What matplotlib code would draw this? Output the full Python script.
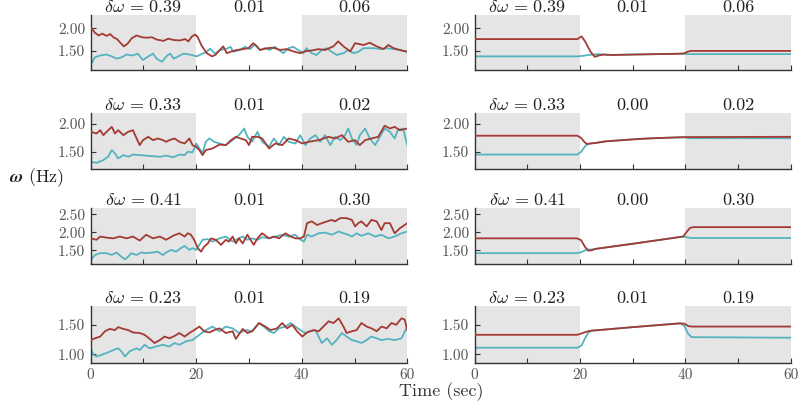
import matplotlib
matplotlib.use("Agg")
import matplotlib.pyplot as plt
import matplotlib.transforms as mtransforms
from matplotlib.ticker import FormatStrFormatter, MultipleLocator, FixedLocator

plt.rcParams['font.family'] = ['cmr10', 'DejaVu Serif']
plt.rcParams['mathtext.fontset'] = 'cm'
plt.rcParams['axes.unicode_minus'] = False

RED = '#a33a33'
TEAL = '#55b3c0'
SHADE = '#e5e5e5'

# ---------------- left column (noisy) ----------------
t_l1_red = [0, 0.8, 1.5, 2.2, 3.0, 3.7, 4.3, 5.0, 5.6, 6.3, 7.0, 7.8, 8.7, 9.7, 10.6, 11.6, 12.5, 13.8, 14.7, 15.7,
            16.9, 17.9, 18.5, 19.2, 19.8, 20.3, 21.0, 22.0, 23.0, 23.6, 24.5, 25.1, 25.8, 26.7, 27.7, 28.9, 29.9,
            30.8, 31.5, 32.1, 33.4, 34.6, 35.9, 37.1, 38.4, 39.7, 40.6, 41.9, 43.2, 44.4, 46.0, 46.9, 47.9, 49.2,
            50.1, 51.7, 52.9, 54.2, 55.5, 56.4, 57.4, 58.6, 60]
red_l1 = [2.02, 1.90, 1.84, 1.88, 1.83, 1.87, 1.80, 1.76, 1.68, 1.60, 1.66, 1.78, 1.84, 1.80, 1.79, 1.80, 1.75, 1.72,
          1.77, 1.74, 1.73, 1.76, 1.71, 1.82, 1.86, 1.80, 1.62, 1.45, 1.38, 1.41, 1.52, 1.60, 1.45, 1.49, 1.52, 1.54,
          1.56, 1.67, 1.60, 1.52, 1.56, 1.57, 1.52, 1.54, 1.49, 1.45, 1.49, 1.51, 1.54, 1.52, 1.60, 1.71, 1.60, 1.49,
          1.67, 1.63, 1.68, 1.60, 1.54, 1.63, 1.56, 1.52, 1.48]
t_l1_teal = [0, 0.8, 1.8, 3.0, 4.0, 4.9, 5.9, 6.8, 8.0, 8.9, 9.9, 10.8, 11.8, 12.5, 13.5, 14.5, 15.1, 15.7, 16.6, 17.6,
             18.8, 20.1, 21.0, 22.0, 22.6, 23.6, 24.5, 25.8, 26.5, 27.0, 28.3, 29.2, 30.2, 31.1, 32.1, 33.0, 33.9,
             34.9, 36.5, 37.5, 38.4, 39.3, 40.3, 40.9, 41.9, 42.8, 43.8, 44.7, 45.7, 46.6, 47.9, 48.8, 49.8, 50.7,
             51.7, 53.6, 54.9, 56.1, 57.4, 58.6, 60]
teal_l1 = [1.19, 1.36, 1.40, 1.42, 1.38, 1.33, 1.36, 1.42, 1.40, 1.44, 1.30, 1.37, 1.44, 1.33, 1.26, 1.40, 1.44, 1.33,
           1.38, 1.44, 1.42, 1.38, 1.43, 1.48, 1.55, 1.44, 1.52, 1.55, 1.59, 1.48, 1.52, 1.59, 1.54, 1.64, 1.52, 1.56,
           1.52, 1.59, 1.45, 1.56, 1.59, 1.52, 1.45, 1.56, 1.45, 1.41, 1.52, 1.56, 1.48, 1.41, 1.45, 1.52, 1.45, 1.48,
           1.56, 1.56, 1.54, 1.56, 1.54, 1.52, 1.48]

t_l2_red = [0, 1.1, 1.8, 2.4, 3.0, 4.0, 4.6, 5.2, 6.2, 7.1, 8.0, 8.7, 9.3, 9.9, 10.9, 11.8, 12.7, 13.7, 14.3, 14.9,
            15.9, 16.8, 17.8, 18.7, 19.3, 20.0, 20.6, 21.2, 21.8, 23.1, 24.4, 25.6, 26.6, 27.5, 28.4, 29.4, 30.0,
            30.6, 31.6, 32.5, 33.8, 35.0, 36.3, 37.5, 38.8, 40.1, 41.3, 43.2, 45.1, 46.3, 47.6, 48.8, 50.1, 51.0,
            52.0, 53.2, 54.5, 55.7, 56.7, 57.6, 58.6, 60]
red_l2 = [1.86, 1.83, 1.89, 1.80, 1.86, 1.95, 1.83, 1.89, 1.80, 1.86, 1.89, 1.74, 1.62, 1.71, 1.77, 1.71, 1.74, 1.71,
          1.68, 1.71, 1.74, 1.68, 1.65, 1.74, 1.62, 1.59, 1.53, 1.44, 1.53, 1.56, 1.63, 1.62, 1.71, 1.77, 1.74, 1.71,
          1.62, 1.77, 1.77, 1.74, 1.56, 1.65, 1.62, 1.74, 1.71, 1.65, 1.68, 1.71, 1.77, 1.74, 1.80, 1.68, 1.71, 1.62,
          1.71, 1.74, 1.77, 1.97, 1.92, 1.95, 1.89, 1.92]
t_l2_teal = [0, 1.1, 2.4, 3.3, 4.0, 4.6, 5.2, 6.2, 7.1, 8.0, 9.3, 10.5, 11.8, 13.1, 14.3, 15.6, 16.8, 17.8, 18.4, 19.3,
             20.0, 20.6, 21.2, 21.8, 22.5, 23.4, 24.4, 25.6, 26.9, 28.1, 29.1, 29.7, 30.6, 31.6, 32.5, 33.8, 34.7,
             35.7, 36.6, 37.5, 38.8, 39.7, 40.7, 41.6, 42.6, 43.5, 44.4, 45.4, 46.3, 47.3, 48.2, 48.8, 49.5, 50.4,
             51.0, 52.0, 52.9, 53.9, 54.8, 55.7, 56.7, 57.6, 58.2, 59.2, 60]
teal_l2 = [1.32, 1.30, 1.35, 1.41, 1.53, 1.47, 1.38, 1.44, 1.41, 1.45, 1.44, 1.43, 1.42, 1.41, 1.43, 1.40, 1.45, 1.44,
           1.50, 1.49, 1.65, 1.56, 1.47, 1.68, 1.74, 1.68, 1.65, 1.62, 1.71, 1.80, 1.92, 1.77, 1.68, 1.86, 1.68, 1.59,
           1.74, 1.62, 1.77, 1.68, 1.65, 1.80, 1.62, 1.74, 1.80, 1.68, 1.80, 1.62, 1.77, 1.71, 1.80, 1.92, 1.74, 1.62,
           1.80, 1.92, 1.74, 1.62, 1.77, 1.92, 1.86, 1.74, 1.89, 1.92, 1.62]

t_l3_red = [0, 1.1, 1.8, 3.0, 4.3, 5.5, 6.8, 8.0, 9.3, 10.5, 11.8, 13.1, 14.3, 15.6, 16.8, 17.8, 18.4, 19.0, 19.6,
            20.3, 20.9, 21.5, 22.2, 22.8, 23.7, 24.7, 25.6, 26.2, 26.9, 27.5, 28.1, 28.8, 29.7, 30.3, 30.9, 31.6,
            32.5, 33.8, 34.7, 35.7, 36.9, 37.9, 38.8, 39.7, 40.4, 41.0, 41.9, 42.9, 43.8, 44.8, 45.7, 46.3, 47.3,
            48.5, 49.5, 50.1, 50.7, 51.3, 52.3, 53.2, 54.2, 55.1, 55.7, 56.7, 57.6, 58.6, 59.5, 60]
red_l3 = [1.83, 1.79, 1.88, 1.85, 1.83, 1.88, 1.83, 1.88, 1.77, 1.93, 1.83, 1.88, 1.79, 1.90, 1.97, 1.88, 1.97, 1.93,
          1.79, 1.56, 1.46, 1.60, 1.69, 1.83, 1.79, 1.65, 1.79, 1.74, 1.88, 1.69, 1.83, 1.69, 1.93, 1.79, 1.65, 1.83,
          1.97, 1.83, 1.88, 1.83, 1.97, 1.88, 1.83, 1.83, 1.88, 2.25, 2.30, 2.20, 2.25, 2.30, 2.34, 2.30, 2.39, 2.39,
          2.34, 2.16, 2.25, 2.30, 2.16, 2.34, 2.30, 2.06, 2.25, 2.25, 1.97, 2.11, 2.20, 2.25]
t_l3_teal = [0, 0.8, 1.8, 3.0, 4.0, 4.9, 5.8, 6.5, 7.1, 7.7, 8.7, 9.6, 10.5, 11.8, 12.7, 13.7, 14.3, 15.3, 16.2, 17.1,
             17.8, 18.7, 19.3, 20.0, 20.6, 21.2, 22.2, 23.1, 24.4, 25.6, 26.9, 27.8, 28.8, 29.7, 30.6, 31.6, 32.5,
             33.8, 35.0, 36.3, 37.5, 38.8, 39.4, 40.4, 41.0, 41.9, 43.2, 44.4, 45.7, 47.0, 47.9, 48.8, 49.5, 50.4,
             51.3, 52.6, 53.9, 55.1, 56.4, 57.6, 58.9, 60]
teal_l3 = [1.23, 1.37, 1.42, 1.42, 1.37, 1.44, 1.32, 1.25, 1.32, 1.42, 1.37, 1.44, 1.42, 1.44, 1.46, 1.37, 1.44, 1.51,
           1.46, 1.56, 1.62, 1.51, 1.56, 1.51, 1.65, 1.79, 1.81, 1.74, 1.83, 1.88, 1.74, 1.81, 1.88, 1.79, 1.83, 1.79,
           1.86, 1.83, 1.88, 1.93, 1.88, 1.93, 1.83, 1.74, 1.93, 1.88, 1.97, 1.99, 1.93, 2.02, 1.97, 1.93, 1.88, 1.97,
           1.90, 1.97, 1.88, 1.93, 1.83, 1.88, 1.97, 2.02]

t_l4_red = [0, 0.8, 1.8, 2.7, 3.6, 4.6, 5.2, 6.2, 7.1, 8.0, 9.3, 10.2, 11.2, 12.1, 13.1, 14.0, 14.9, 15.9, 16.8, 17.8,
            18.7, 19.6, 20.6, 21.5, 22.5, 23.4, 24.4, 25.6, 26.9, 27.5, 28.8, 29.7, 30.6, 31.9, 33.1, 34.1, 35.3,
            36.3, 37.2, 38.2, 39.1, 40.1, 41.0, 42.2, 43.2, 44.1, 45.1, 46.0, 47.0, 47.9, 48.5, 49.5, 50.4, 51.3,
            52.3, 53.2, 54.2, 55.1, 56.1, 57.0, 57.9, 58.9, 59.5, 60]
red_l4 = [1.24, 1.27, 1.30, 1.39, 1.43, 1.41, 1.46, 1.43, 1.41, 1.37, 1.36, 1.33, 1.26, 1.19, 1.24, 1.30, 1.27, 1.31,
          1.36, 1.30, 1.36, 1.41, 1.47, 1.39, 1.37, 1.41, 1.44, 1.36, 1.39, 1.26, 1.43, 1.36, 1.39, 1.53, 1.47, 1.41,
          1.44, 1.53, 1.44, 1.50, 1.39, 1.30, 1.37, 1.41, 1.39, 1.47, 1.56, 1.53, 1.61, 1.47, 1.36, 1.39, 1.41, 1.53,
          1.47, 1.44, 1.39, 1.47, 1.44, 1.53, 1.50, 1.61, 1.59, 1.41]
t_l4_teal = [0, 0.5, 1.1, 2.1, 3.0, 4.3, 5.2, 5.8, 6.5, 7.4, 8.7, 9.3, 10.2, 11.2, 12.4, 13.7, 14.9, 15.9, 16.8, 18.1,
             19.3, 20.6, 21.8, 23.1, 24.4, 25.6, 26.9, 28.1, 29.4, 30.6, 31.9, 32.8, 33.8, 34.7, 35.7, 36.9, 37.9,
             38.8, 39.7, 40.7, 41.6, 42.6, 43.2, 43.8, 44.8, 45.7, 46.6, 47.6, 48.5, 49.5, 50.4, 51.3, 52.3, 53.2,
             54.2, 55.1, 56.4, 57.6, 58.9, 60]
teal_l4 = [1.10, 0.99, 0.96, 0.99, 1.02, 1.07, 1.10, 1.05, 0.96, 1.05, 1.10, 1.07, 1.16, 1.10, 1.13, 1.16, 1.13, 1.19,
           1.16, 1.22, 1.24, 1.33, 1.41, 1.47, 1.39, 1.47, 1.44, 1.36, 1.41, 1.39, 1.53, 1.47, 1.39, 1.36, 1.44, 1.47,
           1.53, 1.47, 1.41, 1.36, 1.39, 1.41, 1.30, 1.19, 1.27, 1.16, 1.24, 1.36, 1.30, 1.24, 1.22, 1.19, 1.24, 1.30,
           1.27, 1.24, 1.26, 1.24, 1.27, 1.47]

# ---------------- right column (smooth) ----------------
t_r1_red = [0, 19.5, 20.3, 21.0, 22.0, 22.8, 23.6, 24.5, 26, 30, 35, 39.6, 40.4, 41, 50, 60]
red_r1 = [1.76, 1.76, 1.82, 1.70, 1.48, 1.37, 1.40, 1.42, 1.41, 1.42, 1.43, 1.44, 1.48, 1.50, 1.50, 1.50]
t_r1_teal = [0, 19.5, 20.5, 21.5, 22.5, 23.5, 24.5, 26, 30, 35, 39.6, 40.5, 60]
teal_r1 = [1.38, 1.38, 1.39, 1.41, 1.42, 1.43, 1.42, 1.41, 1.42, 1.43, 1.44, 1.43, 1.43]

t_r2_red = [0, 19.5, 20.2, 20.8, 21.3, 22, 23, 25, 28, 31, 34, 37, 40, 60]
red_r2 = [1.79, 1.79, 1.75, 1.68, 1.64, 1.65, 1.66, 1.69, 1.71, 1.73, 1.745, 1.755, 1.765, 1.77]
t_r2_teal = [0, 19.5, 20.2, 20.8, 21.3, 22, 23, 25, 28, 31, 34, 37, 40, 40.5, 60]
teal_r2 = [1.45, 1.45, 1.50, 1.58, 1.63, 1.65, 1.66, 1.69, 1.71, 1.73, 1.745, 1.755, 1.76, 1.745, 1.745]

t_r3_red = [0, 19.4, 20.2, 21.0, 21.6, 22.2, 23, 30, 39.6, 40.3, 40.9, 41.5, 60]
red_r3 = [1.83, 1.83, 1.78, 1.58, 1.49, 1.50, 1.54, 1.68, 1.88, 2.02, 2.12, 2.14, 2.14]
t_r3_teal = [0, 19.4, 20.3, 21.0, 21.6, 22.2, 23, 30, 39.6, 40.3, 41, 60]
teal_r3 = [1.42, 1.42, 1.45, 1.50, 1.52, 1.52, 1.54, 1.68, 1.88, 1.86, 1.84, 1.84]

t_r4_red = [0, 19.5, 20.5, 21.5, 22.2, 30, 39, 39.8, 40.5, 41.2, 60]
red_r4 = [1.33, 1.33, 1.36, 1.39, 1.40, 1.46, 1.525, 1.52, 1.48, 1.47, 1.47]
t_r4_teal = [0, 19.5, 20.3, 21.0, 21.6, 22.2, 30, 39, 39.8, 40.5, 41.2, 60]
teal_r4 = [1.11, 1.11, 1.15, 1.28, 1.37, 1.40, 1.46, 1.525, 1.48, 1.35, 1.29, 1.28]

labels_left = [['0.39', '0.01', '0.06'], ['0.33', '0.01', '0.02'], ['0.41', '0.01', '0.30'], ['0.23', '0.01', '0.19']]
labels_right = [['0.39', '0.01', '0.06'], ['0.33', '0.00', '0.02'], ['0.41', '0.00', '0.30'], ['0.23', '0.01', '0.19']]
ylims = [(1.08, 2.29), (1.18, 2.20), (1.12, 2.67), (0.85, 1.82)]
yticks = [[1.5, 2.0], [1.5, 2.0], [1.5, 2.0, 2.5], [1.0, 1.5]]
xtick_labels = [0, 20, 40, 60]

left_data = [(t_l1_teal, teal_l1, t_l1_red, red_l1), (t_l2_teal, teal_l2, t_l2_red, red_l2),
             (t_l3_teal, teal_l3, t_l3_red, red_l3), (t_l4_teal, teal_l4, t_l4_red, red_l4)]
right_data = [(t_r1_teal, teal_r1, t_r1_red, red_r1), (t_r2_teal, teal_r2, t_r2_red, red_r2),
              (t_r3_teal, teal_r3, t_r3_red, red_r3), (t_r4_teal, teal_r4, t_r4_red, red_r4)]

fig = plt.figure(figsize=(8.0, 4.03), dpi=100)
W, H = 800.0, 403.0
rows_px = [(15, 70), (113, 169.5), (208, 264), (306, 363)]
cols_px = [(90.7, 407.3), (474.7, 790.7)]

for ci, (data, labels) in enumerate([(left_data, labels_left), (right_data, labels_right)]):
    for ri in range(4):
        top, bot = rows_px[ri]
        x0, x1 = cols_px[ci]
        ax = fig.add_axes([x0 / W, 1 - bot / H, (x1 - x0) / W, (bot - top) / H])
        ax.axvspan(0, 20, color=SHADE, lw=0, zorder=0)
        ax.axvspan(40, 60, color=SHADE, lw=0, zorder=0)
        tt, tv, rt, rv = data[ri]
        ax.plot(tt, tv, color=TEAL, lw=1.3, zorder=2, solid_joinstyle='round')
        ax.plot(rt, rv, color=RED, lw=1.3, zorder=3, solid_joinstyle='round')
        ax.set_xlim(0, 60)
        ax.set_ylim(*ylims[ri])
        ax.yaxis.set_major_locator(FixedLocator(yticks[ri]))
        ax.yaxis.set_major_formatter(FormatStrFormatter('%.2f'))
        ax.xaxis.set_major_locator(FixedLocator(xtick_labels))
        ax.xaxis.set_minor_locator(MultipleLocator(10))
        if ri < 3:
            ax.set_xticklabels([])
        ax.tick_params(axis='both', which='both', direction='in', length=3.5, width=0.8,
                       labelsize=11, colors='#333333', labelcolor='#555555')
        ax.tick_params(axis='y', pad=4)
        ax.tick_params(axis='x', pad=3.5)
        for s in ['top', 'right']:
            ax.spines[s].set_visible(False)
        for s in ['left', 'bottom']:
            ax.spines[s].set_color('#333333')
            ax.spines[s].set_linewidth(1.0)
        trans = mtransforms.blended_transform_factory(ax.transData, ax.transAxes)
        lab = labels[ri]
        ax.annotate(r'$\delta\omega\,=\,$' + lab[0], xy=(10, 1.0), xycoords=trans, xytext=(0, 2.5),
                    textcoords='offset points', ha='center', va='baseline', fontsize=13, color='#222222')
        ax.annotate(lab[1], xy=(30, 1.0), xycoords=trans, xytext=(0, 2.5),
                    textcoords='offset points', ha='center', va='baseline', fontsize=13, color='#222222')
        ax.annotate(lab[2], xy=(50, 1.0), xycoords=trans, xytext=(0, 2.5),
                    textcoords='offset points', ha='center', va='baseline', fontsize=13, color='#222222')

fig.text(441 / W, 1 - 392 / H, 'Time (sec)', ha='center', va='center', fontsize=13, color='#333333')
fig.text(37 / W, 1 - 178 / H, r'$\boldsymbol{\omega}$ (Hz)', ha='center', va='center', fontsize=13, color='#222222')

fig.savefig('out.png', dpi=100)
